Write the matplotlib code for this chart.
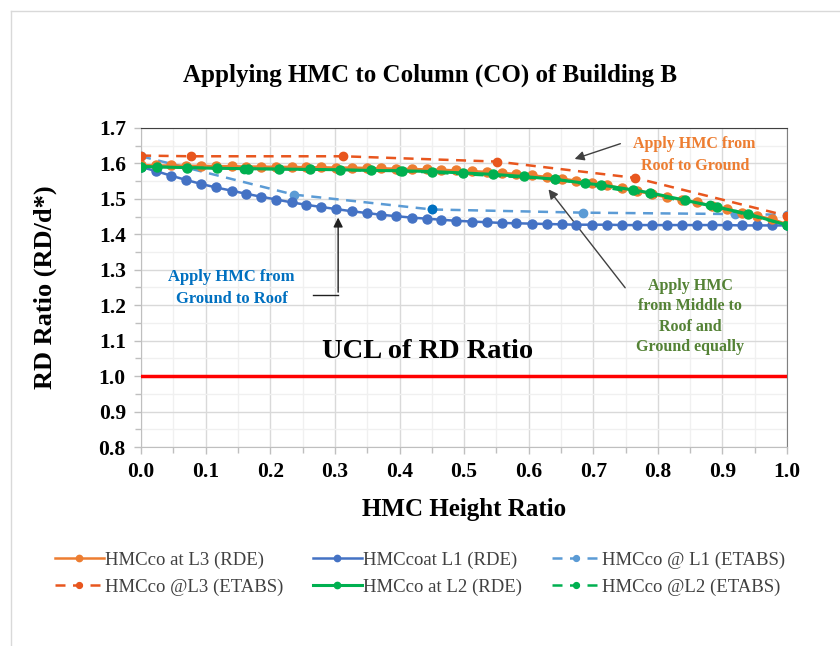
import matplotlib
matplotlib.use("Agg")
import matplotlib.pyplot as plt
from matplotlib.lines import Line2D

plt.rcParams['font.family'] = ['Liberation Serif', 'DejaVu Serif']

# ============ dados ============ #
height_rde = [0.000, 0.023, 0.047, 0.070, 0.093, 0.116, 0.140, 0.163, 0.186, 0.209,
              0.233, 0.256, 0.279, 0.302, 0.326, 0.349, 0.372, 0.395, 0.419, 0.442,
              0.465, 0.488, 0.512, 0.535, 0.558, 0.581, 0.605, 0.628, 0.651, 0.674,
              0.698, 0.721, 0.744, 0.767, 0.791, 0.814, 0.837, 0.860, 0.884, 0.907,
              0.930, 0.953, 0.977, 1.000]

l3_rde = [1.595, 1.594, 1.594, 1.593, 1.593, 1.592, 1.592, 1.591, 1.591, 1.590,
          1.590, 1.589, 1.589, 1.588, 1.588, 1.587, 1.586, 1.585, 1.584, 1.583,
          1.582, 1.580, 1.578, 1.576, 1.573, 1.570, 1.566, 1.562, 1.557, 1.551,
          1.545, 1.538, 1.530, 1.522, 1.513, 1.504, 1.497, 1.490, 1.481, 1.471,
          1.460, 1.452, 1.443, 1.428]

l1_rde = [1.590, 1.578, 1.565, 1.553, 1.542, 1.532, 1.523, 1.514, 1.506, 1.498,
          1.490, 1.483, 1.477, 1.471, 1.465, 1.460, 1.455, 1.451, 1.447, 1.444,
          1.441, 1.438, 1.436, 1.434, 1.432, 1.431, 1.430, 1.429, 1.428, 1.427,
          1.427, 1.427, 1.426, 1.426, 1.426, 1.426, 1.426, 1.426, 1.426, 1.426,
          1.425, 1.425, 1.425, 1.425]

height_l2_rde = [0.000, 0.024, 0.071, 0.118, 0.166, 0.214, 0.262, 0.308, 0.356, 0.404,
                 0.450, 0.498, 0.545, 0.592, 0.641, 0.687, 0.712, 0.762, 0.788, 0.842,
                 0.891, 0.940, 1.000]
l2_rde = [1.591, 1.590, 1.588, 1.586, 1.585, 1.584, 1.583, 1.582, 1.580, 1.579,
          1.577, 1.573, 1.569, 1.563, 1.555, 1.544, 1.539, 1.525, 1.517, 1.496,
          1.477, 1.457, 1.426]

height_l1_etabs = [0.000, 0.236, 0.450, 0.684, 0.920, 1.000]
l1_etabs = [1.620, 1.512, 1.470, 1.461, 1.457, 1.455]

height_l3_etabs = [0.000, 0.077, 0.313, 0.551, 0.765, 1.000]
l3_etabs = [1.622, 1.620, 1.620, 1.605, 1.559, 1.452]

height_l2_etabs = [0.000, 0.160, 0.400, 0.640, 0.880, 1.000]
l2_etabs = [1.591, 1.585, 1.579, 1.556, 1.482, 1.426]

ucl = 1.0

c_l3 = '#ED7D31'
c_l3_etabs = '#E8561E'
c_l1 = '#4472C4'
c_l1_etabs = '#5B9BD5'
c_l2 = '#00B050'

fig = plt.figure(figsize=(8.4, 6.46), dpi=100)
ax = fig.add_axes([0.168, 0.308, 0.769, 0.494])

# moldura do gráfico
fig.add_artist(Line2D([11/840, 1], [1 - 11/646, 1 - 11/646], color='#D9D9D9', lw=1))
fig.add_artist(Line2D([11/840, 11/840], [0, 1 - 11/646], color='#D9D9D9', lw=1))

ax.plot(height_l1_etabs, l1_etabs, '--o', color=c_l1_etabs, lw=1.8, ms=6, dashes=(4, 3),
        label='HMCco @ L1 (ETABS)', zorder=3)
ax.plot(height_l1_etabs[2], l1_etabs[2], 'o', color='#0070C0', ms=6, zorder=3)
ax.plot(height_rde, l1_rde, '-o', color=c_l1, lw=1.8, ms=6.5,
        label='HMCcoat L1 (RDE)', zorder=4)
ax.plot(height_rde, l3_rde, '-o', color=c_l3, lw=1.8, ms=6.5,
        label='HMCco at L3 (RDE)', zorder=5)
ax.plot(height_l2_etabs, l2_etabs, '--o', color=c_l2, lw=1.8, ms=6, dashes=(4, 3),
        label='HMCco @L2 (ETABS)', zorder=5)
ax.plot(height_l2_rde, l2_rde, '-o', color=c_l2, lw=2.2, ms=6.5,
        label='HMCco at L2 (RDE)', zorder=6)
ax.plot(height_l3_etabs, l3_etabs, '--o', color=c_l3_etabs, lw=1.8, ms=6, dashes=(4, 3),
        label='HMCco @L3 (ETABS)', zorder=7)
ax.axhline(ucl, color='#FF0000', lw=2.5, zorder=4)

# ============ configurações do gráfico ============ #
ax.set_xlim(0, 1)
ax.set_ylim(0.8, 1.7)
ax.set_xticks([i / 10 for i in range(11)])
ax.set_yticks([0.8 + i / 10 for i in range(10)])
ax.set_xticks([0.05 + i / 10 for i in range(10)], minor=True)
ax.set_yticks([0.85 + i / 10 for i in range(9)], minor=True)
ax.set_xticklabels([f'{i / 10:.1f}' for i in range(11)])
ax.set_yticklabels([f'{0.8 + i / 10:.1f}' for i in range(10)])
ax.grid(True, which='major', color='#D9D9D9', lw=1)
ax.grid(True, which='minor', color='#F0F0F0', lw=1)
ax.set_axisbelow(True)
ax.tick_params(which='both', direction='out', color='#BFBFBF', length=5, width=1)
ax.tick_params(which='minor', length=4)
ax.tick_params(labelsize=15.5, pad=6)
for lab in ax.get_xticklabels() + ax.get_yticklabels():
    lab.set_fontweight('bold')
ax.spines['left'].set_color('#BFBFBF')
ax.spines['bottom'].set_color('#BFBFBF')
ax.spines['top'].set_color('#404040')
ax.spines['right'].set_color('#808080')

ax.set_xlabel('HMC Height Ratio', fontsize=18, fontweight='bold', labelpad=11)
ax.set_ylabel('RD Ratio (RD/d*)', fontsize=19, fontweight='bold', labelpad=30)
fig.text(0.512, 0.884, 'Applying HMC to Column (CO) of Building B',
         ha='center', va='center', fontsize=18, fontweight='bold')

ax.text(0.444, 1.070, 'UCL of RD Ratio', ha='center', va='center',
        fontsize=20.5, fontweight='bold', zorder=8)

# anotações
ax.text(0.857, 1.625, 'Apply HMC from\nRoof to Ground', color=c_l3, ha='center', va='center',
        fontsize=11.5, fontweight='bold', linespacing=1.5)
ax.annotate('', xy=(0.667, 1.610), xytext=(0.746, 1.658),
            arrowprops=dict(arrowstyle='-|>', color='#404040', lw=1, mutation_scale=14))

ax.text(0.140, 1.249, 'Apply HMC from\nGround to Roof', color='#0070C0', ha='center',
        va='center', fontsize=12, fontweight='bold', linespacing=1.45)
ax.plot([0.266, 0.305], [1.229, 1.229], color='#202020', lw=1)
ax.annotate('', xy=(0.305, 1.455), xytext=(0.305, 1.229),
            arrowprops=dict(arrowstyle='-|>', color='#202020', lw=1, mutation_scale=14))

ax.text(0.850, 1.168, 'Apply HMC\nfrom Middle to\nRoof and\nGround equally', color='#548235',
        ha='center', va='center', fontsize=11.5, fontweight='bold', linespacing=1.35)
ax.annotate('', xy=(0.628, 1.533), xytext=(0.752, 1.243),
            arrowprops=dict(arrowstyle='-|>', color='#404040', lw=1, mutation_scale=14))

handles, labels = ax.get_legend_handles_labels()
order = ['HMCco at L3 (RDE)', 'HMCco @L3 (ETABS)', 'HMCcoat L1 (RDE)',
         'HMCco at L2 (RDE)', 'HMCco @ L1 (ETABS)', 'HMCco @L2 (ETABS)']
hmap = dict(zip(labels, handles))
leg = fig.legend([hmap[k] for k in order], order, ncol=3, loc='center',
                 bbox_to_anchor=(0.50, 0.112), frameon=False, fontsize=13.5,
                 handlelength=2.6, handletextpad=0.1, columnspacing=1.55,
                 labelspacing=0.5, markerscale=0.7)
for t in leg.get_texts():
    t.set_color('#404040')

fig.savefig('out.png', dpi=100)
